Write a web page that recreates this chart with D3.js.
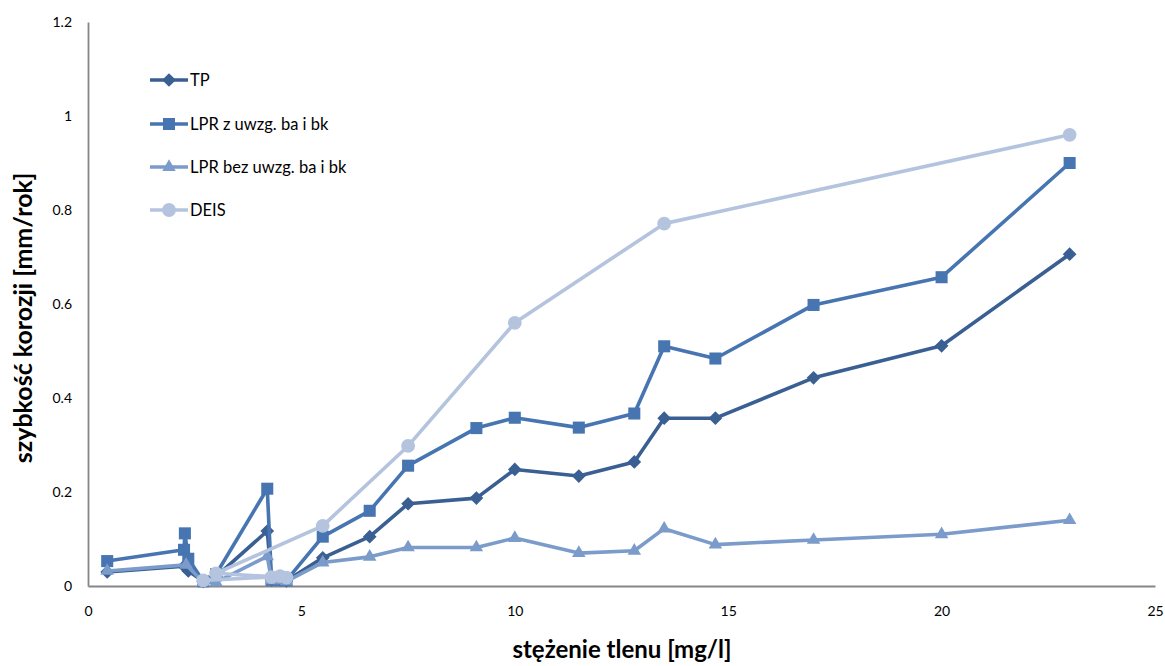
<!DOCTYPE html>
<html>
<head>
<meta charset="utf-8">
<script src="https://cdn.jsdelivr.net/npm/d3@7"></script>
<style>
  html, body { margin: 0; padding: 0; background: #fff; }
  svg { display: block; font-family: Lato, "Open Sans", sans-serif; }
</style>
</head>
<body>
<svg id="chart" width="1165" height="666"></svg>
<script>
// ---- data ----
const seriesNames = ["TP", "LPR z uwzg. ba i bk", "LPR bez uwzg. ba i bk", "DEIS"];

const tpX = [0.45, 2.25, 2.35, 2.7, 3.0, 4.2, 4.3, 4.5, 4.65, 5.5, 6.6, 7.5, 9.1, 10, 11.5, 12.8, 13.5, 14.7, 17, 20, 23];
const tpY = [0.030, 0.042, 0.032, 0.010, 0.020, 0.117, 0.013, 0.013, 0.011, 0.060, 0.105, 0.175, 0.187, 0.248, 0.234, 0.264, 0.357, 0.357, 0.443, 0.511, 0.706];

const lprzX = [0.45, 2.25, 2.27, 2.35, 2.7, 3.0, 4.2, 4.3, 4.5, 4.65, 5.5, 6.6, 7.5, 9.1, 10, 11.5, 12.8, 13.5, 14.7, 17, 20, 23];
const lprzY = [0.053, 0.077, 0.112, 0.058, 0.010, 0.025, 0.207, 0.013, 0.013, 0.012, 0.105, 0.160, 0.256, 0.336, 0.358, 0.337, 0.367, 0.510, 0.484, 0.598, 0.657, 0.900];

const lprbX = [0.45, 2.3, 2.7, 3.0, 4.2, 4.3, 4.5, 4.65, 5.5, 6.6, 7.5, 9.1, 10, 11.5, 12.8, 13.5, 14.7, 17, 20, 23];
const lprbY = [0.032, 0.045, 0.008, 0.008, 0.063, 0.012, 0.012, 0.010, 0.050, 0.062, 0.082, 0.082, 0.102, 0.070, 0.075, 0.122, 0.088, 0.098, 0.110, 0.140];

const deisX = [2.7, 4.3, 4.5, 4.65, 3.0, 5.5, 7.5, 10, 13.5, 23];
const deisY = [0.012, 0.019, 0.021, 0.018, 0.027, 0.128, 0.298, 0.560, 0.771, 0.960];

const xTicks = [0, 5, 10, 15, 20, 25];
const yTicks = [0, 0.2, 0.4, 0.6, 0.8, 1, 1.2];

const xTitle = "stężenie tlenu [mg/l]";
const yTitle = "szybkość korozji [mm/rok]";

// ---- chart ----
const svg = d3.select("#chart");
const mLeft = 88, mRight = 1155, mTop = 22, mBottom = 586;

const x = d3.scaleLinear().domain([0, 25]).range([mLeft, mRight]);
const y = d3.scaleLinear().domain([0, 1.2]).range([mBottom, mTop]);

const series = [
  { name: seriesNames[0], xs: tpX, ys: tpY, color: "#3A5F93", symbol: d3.symbolDiamond2, size: 120, width: 3.6 },
  { name: seriesNames[1], xs: lprzX, ys: lprzY, color: "#4675B1", symbol: d3.symbolSquare2, size: 185, width: 3.6 },
  { name: seriesNames[2], xs: lprbX, ys: lprbY, color: "#7B9BCA", symbol: d3.symbolTriangle2, size: 130, width: 3.6 },
  { name: seriesNames[3], xs: deisX, ys: deisY, color: "#B4C4DE", symbol: d3.symbolCircle, size: 150, width: 3.6 }
];

// axes
const axisColor = "#868686";
const xAxis = d3.axisBottom(x).tickValues(xTicks).tickSize(0).tickPadding(20).tickFormat(d3.format("d"));
const yAxis = d3.axisLeft(y).tickValues(yTicks).tickSize(0).tickPadding(16).tickFormat(d => String(+d.toFixed(1)));

const gx = svg.append("g").attr("transform", `translate(0,${mBottom})`).call(xAxis);
const gy = svg.append("g").attr("transform", `translate(${mLeft},0)`).call(yAxis);
[gx, gy].forEach(g => {
  g.select(".domain").attr("stroke", axisColor).attr("stroke-width", 1.8);
  g.selectAll("text").attr("fill", "#000").style("font-size", "14px").style("font-family", "Lato, sans-serif");
});

// series
const lineGen = d3.line().x(d => x(d[0])).y(d => y(d[1]));
series.forEach(s => {
  const pts = s.xs.map((v, i) => [v, s.ys[i]]);
  const g = svg.append("g");
  g.append("path")
    .attr("d", lineGen(pts))
    .attr("fill", "none")
    .attr("stroke", s.color)
    .attr("stroke-width", s.width)
    .attr("stroke-linejoin", "round");
  g.selectAll("path.m").data(pts).enter().append("path")
    .attr("class", "m")
    .attr("d", d3.symbol().type(s.symbol).size(s.size))
    .attr("transform", d => `translate(${x(d[0])},${y(d[1])})`)
    .attr("fill", s.color);
});

// legend
const legY = [80, 124, 167, 210];
series.forEach((s, i) => {
  const g = svg.append("g").attr("transform", `translate(0,${legY[i]})`);
  g.append("line").attr("x1", 150).attr("x2", 188).attr("y1", 0).attr("y2", 0)
    .attr("stroke", s.color).attr("stroke-width", s.width);
  g.append("path").attr("d", d3.symbol().type(s.symbol).size(s.size))
    .attr("transform", "translate(169,0)").attr("fill", s.color);
  g.append("text").attr("x", 190).attr("y", 0).attr("dy", "0.35em")
    .style("font-size", "16.5px").attr("fill", "#000").text(s.name);
});

// titles
svg.append("text")
  .attr("x", 622).attr("y", 658)
  .attr("text-anchor", "middle")
  .style("font-size", "24px").style("font-weight", "bold")
  .text(xTitle);
svg.append("text")
  .attr("transform", "translate(32,318) rotate(-90)")
  .attr("text-anchor", "middle")
  .style("font-size", "25px").style("font-weight", "bold")
  .text(yTitle);
</script>
</body>
</html>
